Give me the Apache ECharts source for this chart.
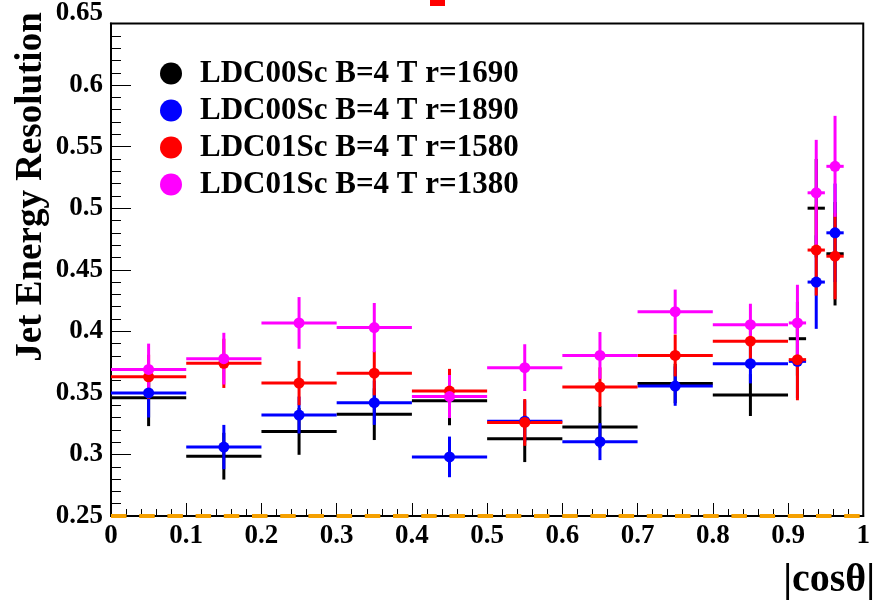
<!DOCTYPE html>
<html><head><meta charset="utf-8">
<script src="https://cdn.jsdelivr.net/npm/echarts@6/dist/echarts.min.js"></script>
<style>html,body{margin:0;padding:0;background:#fff}#c{width:873px;height:600px}</style>
</head><body><div id="c"></div>
<script>
// bins (|cos theta|)
const binCenter = [0.05, 0.15, 0.25, 0.35, 0.45, 0.55, 0.65, 0.75, 0.85, 0.9125, 0.9375, 0.9625];
const binHalf   = [0.05, 0.05, 0.05, 0.05, 0.05, 0.05, 0.05, 0.05, 0.05, 0.0115, 0.0115, 0.0115];

const seriesNames = ['LDC00Sc B=4 T r=1690', 'LDC00Sc B=4 T r=1890', 'LDC01Sc B=4 T r=1580', 'LDC01Sc B=4 T r=1380'];
const seriesColors = ['#000000', '#0000ff', '#ff0000', '#ff00ff'];

const res1690 = [0.346, 0.2986, 0.3187, 0.3327, 0.3437, 0.3128, 0.3222, 0.3576, 0.3482, 0.394, 0.500, 0.463];
const err1690 = [0.023, 0.019, 0.019, 0.021, 0.020, 0.019, 0.017, 0.016, 0.017, 0.030, 0.040, 0.042];

const res1890 = [0.350, 0.306, 0.332, 0.342, 0.298, 0.327, 0.3104, 0.3555, 0.3737, 0.3756, 0.440, 0.480];
const err1890 = [0.020, 0.018, 0.015, 0.018, 0.0165, 0.017, 0.015, 0.016, 0.016, 0.030, 0.038, 0.040];

const res1580 = [0.363, 0.374, 0.358, 0.366, 0.3515, 0.326, 0.3547, 0.3804, 0.392, 0.377, 0.466, 0.461];
const err1580 = [0.018, 0.020, 0.018, 0.018, 0.018, 0.019, 0.016, 0.017, 0.016, 0.033, 0.037, 0.035];

const res1380 = [0.369, 0.3778, 0.4068, 0.403, 0.347, 0.3705, 0.3804, 0.4159, 0.4054, 0.4068, 0.5125, 0.534];
const err1380 = [0.021, 0.021, 0.021, 0.020, 0.0175, 0.019, 0.019, 0.018, 0.017, 0.031, 0.043, 0.041];

const baselineX = [0, 1];
const baselineY = [0.25, 0.25];

const yTicks = {min: 0.25, max: 0.65, step: 0.05};
const xTicks = {min: 0, max: 1, step: 0.1};

const FONT = 'Liberation Serif';
const allRes = [res1690, res1890, res1580, res1380];
const allErr = [err1690, err1890, err1580, err1380];
const showMarker = [false, true, true, true];

function errSeries(i) {
  const col = seriesColors[i];
  return {
    type: 'custom', name: seriesNames[i],
    itemStyle: {color: col},
    encode: {x: 0, y: 1},
    data: binCenter.map((c, k) => [c, allRes[i][k], binHalf[k], allErr[i][k]]),
    renderItem: function (params, api) {
      const x = api.value(0), y = api.value(1), hx = api.value(2), ey = api.value(3);
      const pL = api.coord([x - hx, y]), pR = api.coord([x + hx, y]);
      const pT = api.coord([x, y + ey]), pB = api.coord([x, y - ey]);
      const st = {stroke: col, lineWidth: 3};
      return {type: 'group', children: [
        {type: 'line', shape: {x1: pL[0], y1: pL[1], x2: pR[0], y2: pR[1]}, style: st},
        {type: 'line', shape: {x1: pT[0], y1: pT[1], x2: pB[0], y2: pB[1]}, style: st}
      ]};
    }
  };
}
function markerSeries(i) {
  return {
    type: 'scatter', name: seriesNames[i], symbol: 'circle', symbolSize: 11,
    itemStyle: {color: seriesColors[i], opacity: 1},
    data: binCenter.map((c, k) => [c, allRes[i][k]])
  };
}

const series = [{
  type: 'line', name: 'base', symbol: 'none', clip: false, silent: true, z: 20, zlevel: 0,
  data: baselineX.map((x, k) => [x, baselineY[k]]),
  lineStyle: {color: '#f5a000', width: 4, type: [15.5, 12.7], cap: 'butt'}
}];
for (let i = 0; i < 4; i++) {
  series.push(errSeries(i));
  if (showMarker[i]) series.push(markerSeries(i));
}

const chart = echarts.init(document.getElementById('c'), null, {renderer: 'canvas'});
chart.setOption({
  animation: false,
  backgroundColor: '#ffffff',
  grid: {left: 111, right: 2, top: 20, bottom: 84, show: true, borderColor: '#000', borderWidth: 2, backgroundColor: 'transparent'},
  legend: {
    orient: 'vertical', left: 160, top: 58, padding: 0, itemWidth: 22, itemHeight: 22, itemGap: 6,
    selectedMode: false,
    data: seriesNames.map((n, i) => ({name: n, icon: 'circle', itemStyle: {color: seriesColors[i]}})),
    textStyle: {fontFamily: FONT, fontWeight: 'bold', fontSize: 31, lineHeight: 31, color: '#000', padding: [0, 0, 0, 13]}
  },
  xAxis: {
    type: 'value', min: xTicks.min, max: xTicks.max, interval: xTicks.step,
    axisLine: {show: true, onZero: false, lineStyle: {color: '#000', width: 2}},
    axisTick: {show: true, inside: true, length: 13, lineStyle: {color: '#000', width: 1}},
    minorTick: {show: true, splitNumber: 5, length: 7, lineStyle: {color: '#000', width: 1}},
    splitLine: {show: false},
    axisLabel: {fontFamily: FONT, fontWeight: 'bold', fontSize: 27, color: '#000', margin: 7,
      formatter: v => String(+v.toFixed(2))}
  },
  yAxis: {
    type: 'value', min: yTicks.min, max: yTicks.max, interval: yTicks.step,
    axisLine: {show: true, onZero: false, lineStyle: {color: '#000', width: 2}},
    axisTick: {show: true, inside: true, length: 20, lineStyle: {color: '#000', width: 1}},
    minorTick: {show: true, splitNumber: 5, length: 10, lineStyle: {color: '#000', width: 1}},
    splitLine: {show: false},
    axisLabel: {fontFamily: FONT, fontWeight: 'bold', fontSize: 27, color: '#000', margin: 8,
      formatter: v => { const s = String(+v.toFixed(2)); return Math.abs(v - yTicks.max) < 1e-6 ? '{t|' + s + '}' : s; },
      rich: {t: {fontFamily: FONT, fontWeight: 'bold', fontSize: 27, color: '#000', padding: [0, 0, 20, 0]}}
    }
  },
  graphic: [
    {type: 'text', x: 31, y: 187, rotation: Math.PI / 2,
      style: {text: 'Jet Energy Resolution', font: 'bold 37px "Liberation Serif"', fill: '#000', align: 'center', verticalAlign: 'middle'}},
    {type: 'text', x: 875, y: 581,
      style: {text: '|cosθ|', font: 'bold 40px "Liberation Serif"', fill: '#000', align: 'right', verticalAlign: 'middle'}},
    {type: 'rect', shape: {x: 430, y: 0, width: 15, height: 6}, style: {fill: '#ff0000'}}
  ],
  series: series
});
</script></body></html>
